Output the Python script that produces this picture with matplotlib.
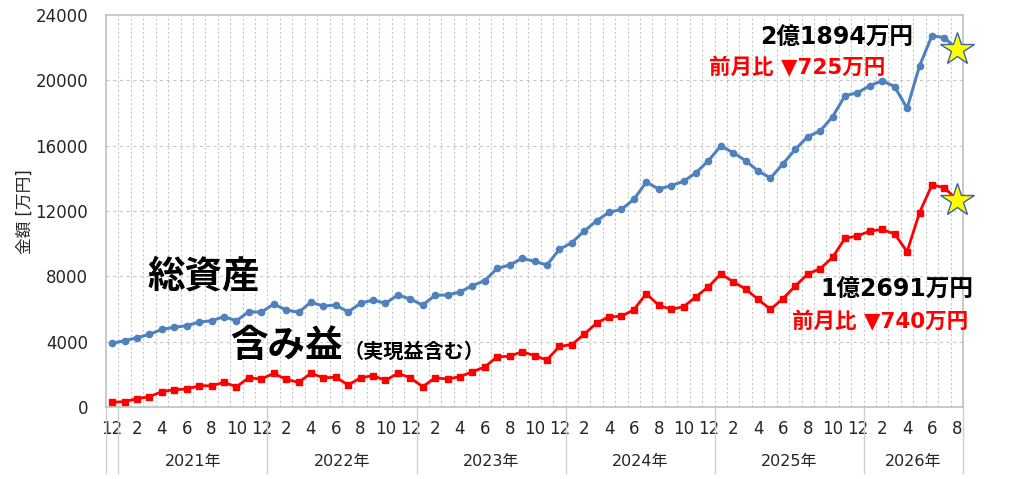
import matplotlib
matplotlib.use('Agg')
import matplotlib.pyplot as plt
import matplotlib.transforms as mtransforms
import numpy as np

plt.rcParams['font.family'] = ['DejaVu Sans', 'Noto Sans CJK JP']

# monthly data, Dec 2020 -> Aug 2026 (unit: 万円)
years = ['2021年', '2022年', '2023年', '2024年', '2025年', '2026年']
month_nums = [12] + list(range(1, 13)) * 5 + list(range(1, 9))

total_assets = [3900,
                4060, 4240, 4450, 4750, 4880, 4980, 5200, 5280, 5530, 5280, 5840, 5800,
                6300, 5940, 5800, 6410, 6180, 6240, 5820, 6350, 6550, 6350, 6860, 6610,
                6240, 6840, 6860, 7040, 7430, 7740, 8490, 8690, 9100, 8920, 8690, 9650,
                10060, 10770, 11400, 11920, 12100, 12710, 13770, 13350, 13550, 13820, 14340, 15080,
                15980, 15570, 15080, 14450, 14020, 14880, 15780, 16550, 16900, 17770, 19060, 19240,
                19670, 19980, 19610, 18290, 20880, 22730, 22619, 21894]

unrealized = [290,
              330, 510, 630, 940, 1060, 1100, 1300, 1300, 1510, 1240, 1790, 1710,
              2060, 1690, 1510, 2060, 1790, 1820, 1350, 1790, 1920, 1630, 2060, 1790,
              1240, 1790, 1710, 1860, 2160, 2450, 3080, 3100, 3390, 3140, 2880, 3710,
              3820, 4450, 5140, 5530, 5550, 5960, 6940, 6230, 5980, 6140, 6750, 7360,
              8140, 7670, 7220, 6590, 5980, 6630, 7410, 8140, 8470, 9160, 10330, 10470,
              10770, 10870, 10590, 9510, 11900, 13590, 13431, 12691]

blue = '#4F81BD'
red = '#FF0000'
grid_c = '#C8C8C8'

x = np.arange(len(month_nums))
n = len(x)

fig = plt.figure(figsize=(10.24, 4.79), dpi=100)
ax = fig.add_axes([106/1024, 1-407/479, (963-106)/1024, (407-15)/479])

# grid
for g in np.arange(-0.5, n, 1.0)[1:]:
    ax.axvline(g, color=grid_c, lw=0.8, ls=(0, (2, 2)), zorder=0)
for yv in range(4000, 24000, 4000):
    ax.axhline(yv, color=grid_c, lw=0.8, ls=(0, (3, 3)), zorder=0)

# lines
ax.plot(x, total_assets, color=blue, lw=2.2, marker='o', ms=4.5,
        markevery=list(range(n-1)), zorder=3)
ax.plot(x, unrealized, color=red, lw=2.0, marker='s', ms=3.8,
        markevery=list(range(n-1)), zorder=3)
ax.plot(x[-1], total_assets[-1], marker='*', ms=25, mfc='#FFFF00', mec='#3F63A0',
        mew=1.0, zorder=4, clip_on=False)
ax.plot(x[-1], unrealized[-1], marker='*', ms=25, mfc='#FFFF00', mec='#3F63A0',
        mew=1.0, zorder=4, clip_on=False)

ax.set_xlim(-0.5, n - 0.5)
ax.set_ylim(0, 24000)
ax.set_yticks(range(0, 24001, 4000))
ax.tick_params(axis='y', length=0, pad=13, labelsize=12, labelcolor='#262626')

tick_pos = [i for i in x if month_nums[i] % 2 == 0]
ax.set_xticks(tick_pos)
ax.set_xticklabels([str(month_nums[i]) for i in tick_pos])
ax.tick_params(axis='x', length=0, pad=9, labelsize=12, labelcolor='#262626')

for s in ax.spines.values():
    s.set_color('#C0C0C0')
    s.set_linewidth(1.2)

# year group separators and labels
trans = mtransforms.blended_transform_factory(ax.transData, ax.transAxes)
seps = [-0.5, 0.5, 12.5, 24.5, 36.5, 48.5, 60.5, n - 0.5]
for sx in seps:
    ax.plot([sx, sx], [0, -0.168], color='#D0D0D0', lw=1.0, transform=trans, clip_on=False)
for k, yl in enumerate(years):
    lo = seps[k + 1]
    hi = seps[k + 2]
    ax.text((lo + hi) / 2, -0.140, yl, transform=trans, ha='center', va='center',
            fontsize=11.5, color='#262626')

fig.text(25/1024, 1-212/479, '金額 [万円]', rotation=90, ha='center', va='center',
         fontsize=12, color='#262626')

# annotations
ax.text(2.8, 7960, '総資産', fontsize=27, fontweight='bold', ha='left', va='center')
ax.text(9.5, 3670, '含み益', fontsize=27, fontweight='bold', ha='left', va='center')
ax.text(18.6, 3370, '（実現益含む）', fontsize=14.5, fontweight='bold', ha='left', va='center')

ax.text(64.5, 22590, '2億1894万円', fontsize=17, fontweight='bold', ha='right', va='center')
ax.text(62.2, 20750, '前月比 ▼725万円', fontsize=15.5, fontweight='bold', color=red,
        ha='right', va='center')
ax.text(69.3, 7160, '1億2691万円', fontsize=17, fontweight='bold', ha='right', va='center')
ax.text(68.9, 5200, '前月比 ▼740万円', fontsize=15.5, fontweight='bold', color=red,
        ha='right', va='center')

fig.savefig('out.png', dpi=100)
